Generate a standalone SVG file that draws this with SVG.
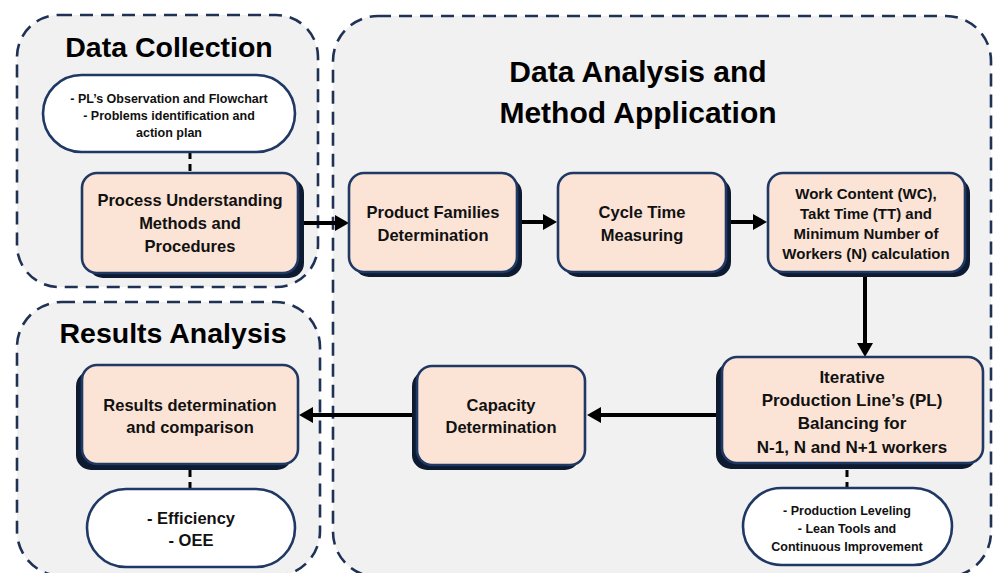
<svg xmlns="http://www.w3.org/2000/svg" width="993" height="573" viewBox="0 0 993 573">
<style>
.panel{fill:#f1f1f1;stroke:#1f3255;stroke-width:2.6;stroke-dasharray:13 8}
.box{fill:#fbe4d6;stroke:#1f3864;stroke-width:2.6}
.shadow{fill:#0e1a30}
.oval{fill:#ffffff;stroke:#1f3864;stroke-width:2.6}
.title{font-family:"Liberation Sans",Arial,sans-serif;font-weight:bold;font-size:28.5px;fill:#000;text-anchor:middle}
.t{font-family:"Liberation Sans",Arial,sans-serif;font-weight:bold;font-size:16.5px;fill:#111;text-anchor:middle}
.s{font-family:"Liberation Sans",Arial,sans-serif;font-weight:bold;font-size:12.5px;fill:#111;text-anchor:middle}
.arrow{stroke:#000;stroke-width:4;fill:none;marker-end:url(#ah)}
.dash{stroke:#000;stroke-width:3;fill:none;stroke-dasharray:7 5}
</style>
<defs>
<marker id="ah" markerUnits="userSpaceOnUse" markerWidth="14" markerHeight="16" viewBox="0 0 14 16" refX="4" refY="8" orient="auto">
<path d="M0,0 L14,8 L0,16 z" fill="#000"/>
</marker>
</defs>
<rect width="993" height="573" fill="#ffffff"/>

<g id="panel-data-collection">
<rect class="panel" x="17" y="15" width="301" height="272" rx="42"/>
<text class="title" x="169" y="57">Data Collection</text>
</g>
<g id="panel-results-analysis">
<rect class="panel" x="17" y="302" width="303" height="274" rx="45"/>
<text class="title" x="173" y="343">Results Analysis</text>
</g>
<g id="panel-data-analysis">
<rect class="panel" x="333" y="16" width="658" height="561" rx="45"/>
<text class="title" x="638" y="82" style="font-size:30px">Data Analysis and</text>
<text class="title" x="638" y="122.5" style="font-size:30px">Method Application</text>
</g>

<g id="connectors">
<path class="dash" d="M190,152 V173"/>
<path class="dash" d="M190,470 V489"/>
<path class="dash" d="M847,470 V488"/>
<path class="arrow" d="M304,223 H339"/>
<path class="arrow" d="M522,222 H547"/>
<path class="arrow" d="M731,222 H757"/>
<path class="arrow" d="M865,277 V347"/>
<path class="arrow" d="M716,415 H597"/>
<path class="arrow" d="M412,415 H309"/>
</g>

<g id="node-pl-observation">
<rect class="oval" x="43" y="75" width="252" height="77" rx="38.5"/>
<text class="s" x="169" y="102.5">- PL’s Observation and Flowchart</text>
<text class="s" x="169" y="119.5">- Problems identification and</text>
<text class="s" x="169" y="136.5">action plan</text>
</g>
<g id="node-process-understanding">
<rect class="shadow" x="88" y="178" width="216" height="100" rx="15"/>
<rect class="box" x="82" y="173" width="216" height="100" rx="15"/>
<text class="t" x="190" y="206">Process Understanding</text>
<text class="t" x="190" y="229">Methods and</text>
<text class="t" x="190" y="252">Procedures</text>
</g>
<g id="node-product-families">
<rect class="shadow" x="354" y="178" width="168" height="99" rx="15"/>
<rect class="box" x="349" y="173" width="168" height="99" rx="15"/>
<text class="t" x="433" y="218">Product Families</text>
<text class="t" x="433" y="241">Determination</text>
</g>
<g id="node-cycle-time">
<rect class="shadow" x="563" y="178" width="168" height="99" rx="15"/>
<rect class="box" x="558" y="173" width="168" height="99" rx="15"/>
<text class="t" x="642" y="218">Cycle Time</text>
<text class="t" x="642" y="241">Measuring</text>
</g>
<g id="node-work-content">
<rect class="shadow" x="773" y="178" width="197" height="99" rx="15"/>
<rect class="box" x="768" y="173" width="197" height="99" rx="15"/>
<text class="t" x="866" y="198.5" style="font-size:15px">Work Content (WC),</text>
<text class="t" x="866" y="218.5" style="font-size:15px">Takt Time (TT) and</text>
<text class="t" x="866" y="238.5" style="font-size:15px">Minimum Number of</text>
<text class="t" x="866" y="259" style="font-size:15px">Workers (N) calculation</text>
</g>
<g id="node-iterative-balancing">
<rect class="shadow" x="716" y="363" width="261" height="106" rx="15"/>
<rect class="box" x="722" y="357" width="261" height="106" rx="15"/>
<text class="t" x="852" y="383" style="font-size:17px">Iterative</text>
<text class="t" x="852" y="406" style="font-size:17px">Production Line’s (PL)</text>
<text class="t" x="852" y="429" style="font-size:17px">Balancing for</text>
<text class="t" x="852" y="453" style="font-size:17px">N-1, N and N+1 workers</text>
</g>
<g id="node-production-leveling">
<rect class="oval" x="743" y="488" width="209" height="77" rx="38.5"/>
<text class="s" x="847" y="514.5">- Production Leveling</text>
<text class="s" x="847" y="532.5">- Lean Tools and</text>
<text class="s" x="847" y="551">Continuous Improvement</text>
</g>
<g id="node-capacity">
<rect class="shadow" x="412" y="371" width="168" height="99" rx="15"/>
<rect class="box" x="417" y="366" width="168" height="99" rx="15"/>
<text class="t" x="501" y="411">Capacity</text>
<text class="t" x="501" y="433">Determination</text>
</g>
<g id="node-results-determination">
<rect class="shadow" x="76" y="371" width="216" height="99" rx="15"/>
<rect class="box" x="82" y="365" width="216" height="99" rx="15"/>
<text class="t" x="190" y="411">Results determination</text>
<text class="t" x="190" y="433">and comparison</text>
</g>
<g id="node-efficiency">
<rect class="oval" x="87" y="489" width="208" height="78" rx="39"/>
<text class="t" x="191" y="524">- Efficiency</text>
<text class="t" x="191" y="546">- OEE</text>
</g>
</svg>
